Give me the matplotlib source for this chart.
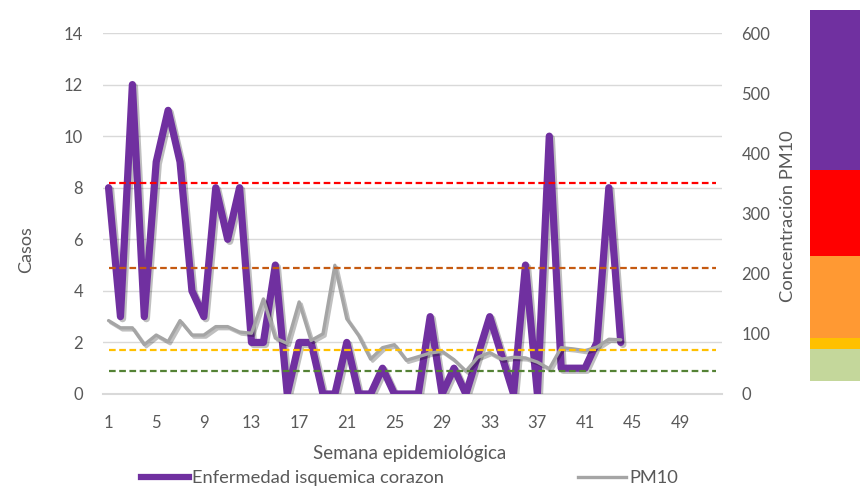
import matplotlib
matplotlib.use('Agg')
import matplotlib.pyplot as plt
import matplotlib.patheffects as pe
from matplotlib.lines import Line2D

# ---------------- data ----------------
semanas = list(range(1, 45))
casos = [8, 3, 12, 3, 9, 11, 9, 4, 3, 8, 6, 8, 2, 2, 5, 0, 2, 2, 0, 0, 2, 0,
         0, 1, 0, 0, 0, 3, 0, 1, 0, 1.5, 3, 1.5, 0, 5, 0, 10, 1, 1, 1, 2, 8, 2]
pm10 = [122, 110, 110, 82, 98, 87, 122, 98, 98, 112, 112, 103, 101, 158, 93,
        84, 153, 89, 100, 214, 125, 97, 58, 77, 82, 56, 62, 68, 71, 57, 38,
        61, 69, 58, 61, 60, 53, 42, 77, 75, 72, 78, 91, 90]
umbrales_pm10 = [350, 210, 73, 39]
colores_umbral = ['#FF0000', '#C55A11', '#FFC000', '#548235']
xtick_labels = list(range(1, 50, 4))
n_categorias = 52
yticks_casos = list(range(0, 15, 2))
yticks_pm10 = list(range(0, 601, 100))
bandas_inf = [22, 75, 93, 229, 373]
bandas_sup = [75, 93, 229, 373, 638]
colores_bandas = ['#C4D79B', '#FFC000', '#FF9933', '#FF0000', '#7030A0']

TXT = '#595959'
plt.rcParams['font.family'] = ['Lato', 'DejaVu Sans']
plt.rcParams['font.size'] = 12

W, H = 866, 491
fig = plt.figure(figsize=(W / 100, H / 100), dpi=100)
x0, x1, ytop, ybot = 102.6, 722.0, 33.0, 394.0
ax = fig.add_axes([x0 / W, 1 - ybot / H, (x1 - x0) / W, (ybot - ytop) / H])
ax2 = ax.twinx()

shadow = [pe.SimpleLineShadow(offset=(1.5, -1.5), alpha=0.25, shadow_color='k'), pe.Normal()]

ax.plot(semanas, casos, color='#7030A0', lw=5.2, solid_joinstyle='round',
        solid_capstyle='round', path_effects=shadow, zorder=3)
ax2.plot(semanas, pm10, color='#A5A5A5', lw=2.4, solid_joinstyle='round',
         solid_capstyle='round', path_effects=shadow, zorder=3)
for v, c in zip(umbrales_pm10, colores_umbral):
    ax2.plot([1, n_categorias], [v, v], color=c, lw=1.6, linestyle=(0, (3, 1.6)), zorder=4)

ax.set_xlim(0.5, n_categorias + 0.5)
ax.set_ylim(0, 14)
ax2.set_ylim(0, 600)
ax.set_xticks(xtick_labels)
ax.set_xticklabels([str(t) for t in xtick_labels])
ax.set_yticks(yticks_casos)
ax2.set_yticks(yticks_pm10)
ax.yaxis.grid(True, color='#D9D9D9', lw=1)
ax.set_axisbelow(True)
for a in (ax, ax2):
    for s in a.spines.values():
        s.set_visible(False)
ax.spines['bottom'].set_visible(True)
ax.spines['bottom'].set_color('#D9D9D9')
ax.spines['bottom'].set_linewidth(1.5)
ax.tick_params(axis='y', length=0, pad=14, labelcolor=TXT, labelsize=12)
ax.tick_params(axis='x', length=0, pad=15, labelcolor=TXT, labelsize=12)
ax2.tick_params(axis='y', length=0, pad=14, labelcolor=TXT, labelsize=12)

fig.text(26 / W, 1 - 250 / H, 'Casos', rotation=90, ha='center', va='center', color=TXT, fontsize=13)
fig.text(788 / W, 1 - 216 / H, 'Concentración PM10', rotation=90, ha='center', va='center',
         color=TXT, fontsize=13.2)
fig.text(410 / W, 1 - 454 / H, 'Semana epidemiológica', ha='center', va='center', color=TXT, fontsize=13.5)

# legend
h1 = Line2D([], [], color='#7030A0', lw=4.5)
h2 = Line2D([], [], color='#A5A5A5', lw=2.4)
for h, lab, xa in [(h1, 'Enfermedad isquemica corazon', 141), (h2, 'PM10', 578)]:
    fig.legend([h], [lab], loc='center left', bbox_to_anchor=(xa / W, 1 - 478 / H),
               frameon=False, borderpad=0, borderaxespad=0, handlelength=2.6,
               handletextpad=0.2, fontsize=13.2, labelcolor=TXT)

# colour band image on the right
axb = fig.add_axes([810 / W, 1 - ybot / H, 50 / W, (ybot - ytop) / H])
axb.set_xlim(0, 1)
axb.set_ylim(0, 600)
for lo, hi, c in zip(bandas_inf, bandas_sup, colores_bandas):
    axb.bar(0.5, hi - lo, bottom=lo, width=1, color=c, clip_on=False, lw=0)
axb.axis('off')

fig.savefig('out.png', dpi=100)
